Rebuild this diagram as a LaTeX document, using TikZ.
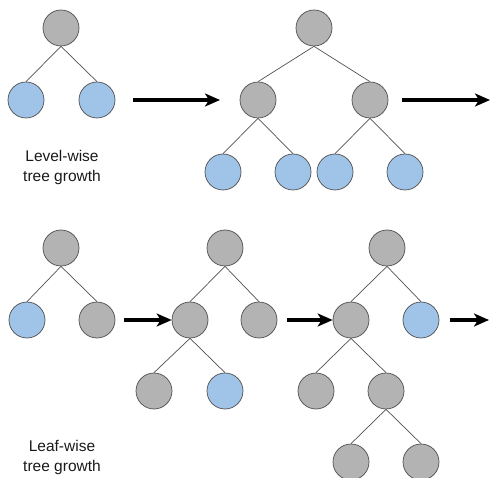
\documentclass[tikz,border=0pt]{standalone}
\usepackage{fontspec}
\setmainfont{Liberation Sans}
\usetikzlibrary{arrows.meta}
\definecolor{nodegray}{HTML}{B3B3B3}
\definecolor{nodeblue}{HTML}{A0C4E8}
\definecolor{rimcol}{HTML}{4D4D4D}
\definecolor{edgecol}{HTML}{505050}
\tikzset{
  vertex/.style={circle, draw=rimcol, line width=0.7pt, minimum size=36pt, inner sep=0pt},
  grayv/.style={vertex, fill=nodegray},
  bluev/.style={vertex, fill=nodeblue},
  branch/.style={draw=edgecol, line width=0.7pt},
  growth/.style={draw=black, line width=3.2pt, -{Stealth[length=15pt,width=13pt,inset=4pt]}},
  caption/.style={font=\fontsize{15.5}{20}\selectfont, align=center, text=black!90}
}
\begin{document}
\begin{tikzpicture}[x=1pt,y=-1pt]
\useasboundingbox (0,0) rectangle (490,478);

% level-wise: first stage
\node[grayv] (a1) at (61,28) {};
\node[bluev] (a2) at (26,100) {};
\node[bluev] (a3) at (97,100) {};
\draw[branch] (a1.south) -- (a2.north);
\draw[branch] (a1.south) -- (a3.north);
\node[caption] (lvl) at (62,167) {Level-wise\\tree growth};

% level-wise: second stage
\node[grayv] (b1) at (314,28) {};
\node[grayv] (b2) at (258,100) {};
\node[grayv] (b3) at (370,100) {};
\node[bluev] (b4) at (223,172) {};
\node[bluev] (b5) at (293,172) {};
\node[bluev] (b6) at (335,172) {};
\node[bluev] (b7) at (405,172) {};
\draw[branch] (b1.south) -- (b2.north);
\draw[branch] (b1.south) -- (b3.north);
\draw[branch] (b2.south) -- (b4.north);
\draw[branch] (b2.south) -- (b5.north);
\draw[branch] (b3.south) -- (b6.north);
\draw[branch] (b3.south) -- (b7.north);

\coordinate (p1) at (133,100);
\coordinate (q1) at (220,100);
\coordinate (p2) at (402,100);
\coordinate (q2) at (490,100);
\draw[growth] (p1) -- (q1);
\draw[growth] (p2) -- (q2);

% leaf-wise: first stage
\node[grayv] (c1) at (61,248) {};
\node[bluev] (c2) at (27,320) {};
\node[grayv] (c3) at (97,320) {};
\draw[branch] (c1.south) -- (c2.north);
\draw[branch] (c1.south) -- (c3.north);
\node[caption] (lf) at (62,457) {Leaf-wise\\tree growth};

% leaf-wise: second stage
\node[grayv] (d1) at (225,248) {};
\node[grayv] (d2) at (190,320) {};
\node[grayv] (d3) at (259,320) {};
\node[grayv] (d4) at (154,391) {};
\node[bluev] (d5) at (225,391) {};
\draw[branch] (d1.south) -- (d2.north);
\draw[branch] (d1.south) -- (d3.north);
\draw[branch] (d2.south) -- (d4.north);
\draw[branch] (d2.south) -- (d5.north);

% leaf-wise: third stage
\node[grayv] (e1) at (387,248) {};
\node[grayv] (e2) at (351,320) {};
\node[bluev] (e3) at (421,320) {};
\node[grayv] (e4) at (316,391) {};
\node[grayv] (e5) at (386,391) {};
\node[grayv] (e6) at (351,462) {};
\node[grayv] (e7) at (421,462) {};
\draw[branch] (e1.south) -- (e2.north);
\draw[branch] (e1.south) -- (e3.north);
\draw[branch] (e2.south) -- (e4.north);
\draw[branch] (e2.south) -- (e5.north);
\draw[branch] (e5.south) -- (e6.north);
\draw[branch] (e5.south) -- (e7.north);

\coordinate (p3) at (124,320);
\draw[growth] (p3) -- (d2);
\coordinate (p4) at (287,320);
\draw[growth] (p4) -- (e2);
\coordinate (p5) at (450,320);
\coordinate (q5) at (489,320);
\draw[growth] (p5) -- (q5);
\end{tikzpicture}
\end{document}
